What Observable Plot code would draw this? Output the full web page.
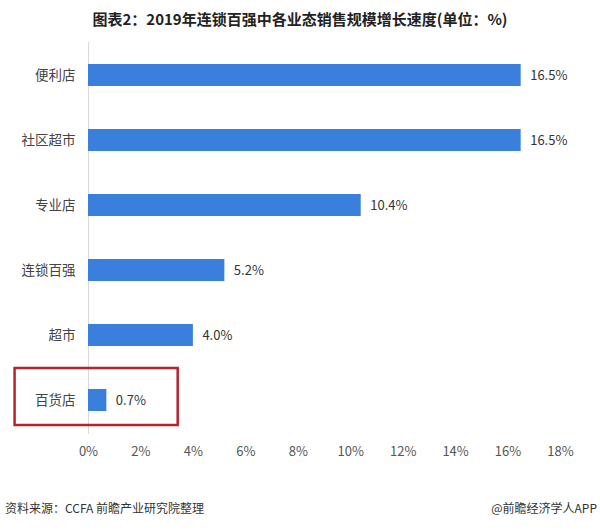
<!DOCTYPE html>
<html>
<head>
<meta charset="utf-8">
<script src="https://cdn.jsdelivr.net/npm/d3@7"></script>
<script src="https://cdn.jsdelivr.net/npm/@observablehq/plot@0.6"></script>
<style>
  html, body { margin: 0; padding: 0; background: #fff; }
  body { width: 600px; height: 530px; position: relative; font-family: "Noto Sans CJK SC", "Noto Sans", sans-serif; overflow: hidden; }
  #title { position: absolute; top: 8px; left: 0; width: 600px; text-align: center; font-size: 15px; font-weight: bold; color: #222; line-height: 22px; }
  #chart { position: absolute; top: 40px; left: 0; }
  #src { position: absolute; top: 499px; left: 5px; font-size: 12px; color: #333; }
  #app { position: absolute; top: 499px; right: 3px; font-size: 12px; color: #333; }
</style>
</head>
<body>
<div id="title">图表2：2019年连锁百强中各业态销售规模增长速度(单位：%)</div>
<div id="chart"></div>
<div id="src">资料来源：CCFA 前瞻产业研究院整理</div>
<div id="app">@前瞻经济学人APP</div>
<script>
const categories = ["便利店", "社区超市", "专业店", "连锁百强", "超市", "百货店"];
const values = [16.5, 16.5, 10.4, 5.2, 4.0, 0.7];
const xTicks = [0, 2, 4, 6, 8, 10, 12, 14, 16, 18];
const highlighted = ["百货店"];

const data = categories.map((c, i) => ({ category: c, value: values[i] }));
const hl = highlighted.map(c => ({ category: c }));

const chart = Plot.plot({
  width: 600,
  height: 440,
  marginTop: 2,
  marginBottom: 46,
  marginLeft: 88,
  marginRight: 40,
  style: { fontFamily: '"Noto Sans CJK SC", "Noto Sans", sans-serif', fontSize: "13.5px", color: "#444", background: "transparent" },
  x: { domain: [0, 18], ticks: xTicks, tickFormat: d => d + "%", tickSize: 0, tickPadding: 12, label: null },
  y: { domain: categories, paddingInner: 0.66, paddingOuter: 0.33, tickSize: 0, tickPadding: 13, label: null },
  marks: [
    Plot.ruleX([0], { stroke: "#d9d9d9", strokeWidth: 1 }),
    Plot.barX(data, { x: "value", y: "category", fill: "#3a7fdc" }),
    Plot.text(data, { x: "value", y: "category", text: d => d.value.toFixed(1) + "%", dx: 9, textAnchor: "start", fill: "#333", fontSize: 13 }),
    Plot.rect(hl, { x1: -2.8, x2: 3.42, y: "category", stroke: "#b8232b", strokeWidth: 2.5, fill: "none", insetTop: -21, insetBottom: -14, clip: false })
  ]
});
chart.querySelectorAll("g[aria-label='x-axis tick label']").forEach(e => { e.setAttribute("font-size", "13"); e.setAttribute("fill", "#555"); });
chart.querySelectorAll("g[aria-label='y-axis tick label']").forEach(e => { e.setAttribute("fill", "#444"); });
document.getElementById("chart").appendChild(chart);
</script>
</body>
</html>
